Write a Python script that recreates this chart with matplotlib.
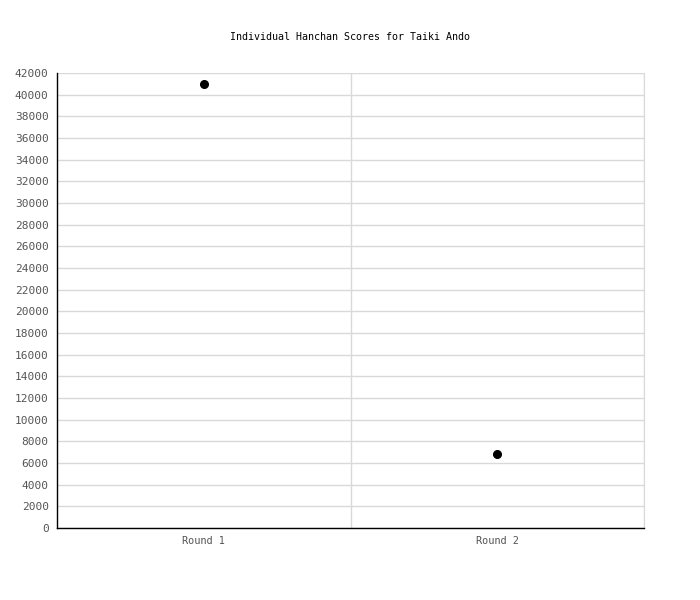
import matplotlib.pyplot as plt
import numpy as np

rounds = ['Round 1', 'Round 2']
scores = [41000, 6800]
y_ticks = list(range(0, 42001, 2000))

fig = plt.figure(figsize=(7, 6), dpi=100)
ax = fig.add_axes([57/700, 72/600, 587/700, 455/600])

x = np.arange(len(rounds))
ax.plot(x, scores, 'o', color='black', markersize=5.5, linestyle='none', zorder=3)

ax.set_xlim(-0.5, len(rounds) - 0.5)
ax.set_ylim(0, 42000)
ax.set_yticks(y_ticks)
ax.set_yticklabels([str(v) for v in y_ticks])
ax.set_xticks(x)
ax.set_xticklabels(rounds)
ax.set_xticks(x + 0.5, minor=True)

ax.grid(axis='y', color='#d9d9d9', linewidth=1)
ax.grid(axis='x', which='minor', color='#d9d9d9', linewidth=1)
ax.set_axisbelow(True)

ax.spines['top'].set_visible(False)
ax.spines['right'].set_color('#d9d9d9')
for s in ['left', 'bottom']:
    ax.spines[s].set_color('black')
    ax.spines[s].set_linewidth(1)

ax.tick_params(which='both', length=0, labelcolor='#555555', pad=6)
ax.tick_params(axis='y', labelsize=8)
ax.tick_params(axis='x', labelsize=7.4)
for lbl in ax.get_xticklabels() + ax.get_yticklabels():
    lbl.set_family('DejaVu Sans Mono')

fig.text(350/700, 1 - 37/600, 'Individual Hanchan Scores for Taiki Ando',
         ha='center', va='center', fontsize=7.2, family='DejaVu Sans Mono',
         color='black')

fig.savefig('out.png', dpi=100, facecolor='white')
